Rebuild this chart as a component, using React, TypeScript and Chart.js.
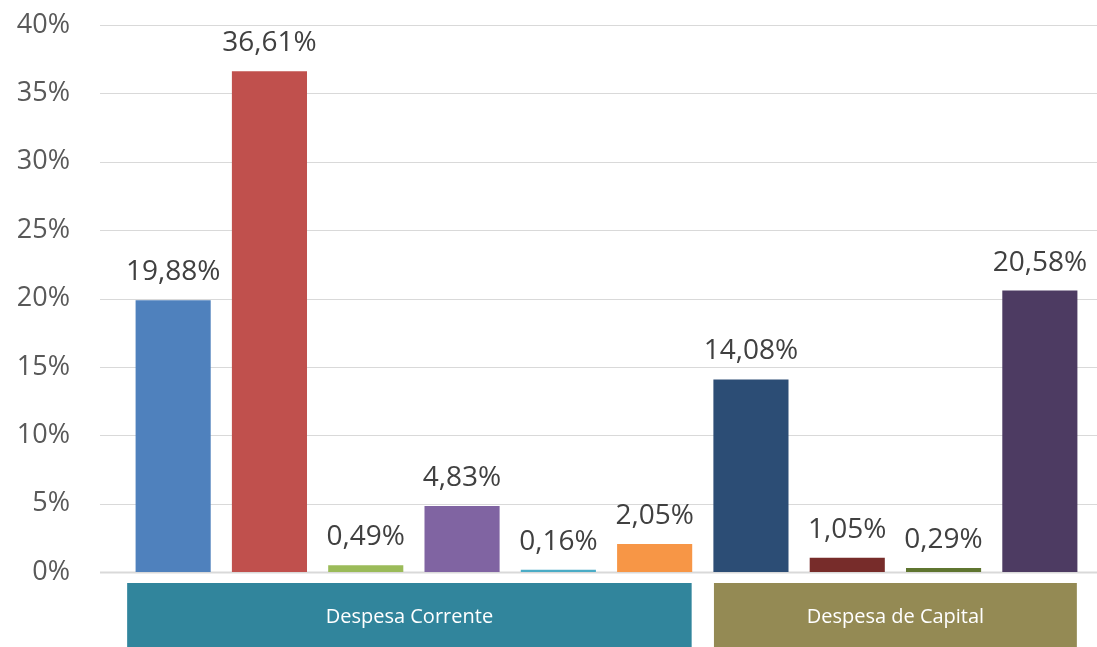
import React, { useEffect, useRef } from "react";
import { Chart, registerables } from "chart.js";

Chart.register(...registerables);

const categories = ["C1", "C2", "C3", "C4", "C5", "C6", "K1", "K2", "K3", "K4"];
const values = [19.88, 36.61, 0.49, 4.83, 0.16, 2.05, 14.08, 1.05, 0.29, 20.58];
const barColors = [
  "#4F81BD", "#C0504D", "#9BBB59", "#8064A2", "#4BACC6",
  "#F79646", "#2C4D75", "#772C2A", "#5F7530", "#4D3B62",
];
const groupLabels = ["Despesa Corrente", "Despesa de Capital"];
const groupStart = [0, 6];
const groupEnd = [5, 9];
const groupColors = ["#31859C", "#948A54"];
const yMax = 40;
const yStep = 5;

const FONT = "'Open Sans', 'Noto Sans', sans-serif";

const fmt = (v: number) => v.toFixed(2).replace(".", ",") + "%";

const gridPlugin = {
  id: "gridPlugin",
  beforeDatasetsDraw(chart: any) {
    const { ctx } = chart;
    const y = chart.scales.y;
    ctx.save();
    y.ticks.forEach((t: any) => {
      const py = Math.round(y.getPixelForValue(t.value)) + 0.5;
      ctx.beginPath();
      ctx.strokeStyle = "#D9D9D9";
      ctx.lineWidth = t.value === 0 ? 2 : 1.2;
      ctx.moveTo(100, py);
      ctx.lineTo(chart.width, py);
      ctx.stroke();
    });
    ctx.restore();
  },
};

const labelPlugin = {
  id: "labelPlugin",
  afterDatasetsDraw(chart: any) {
    const { ctx } = chart;
    const meta = chart.getDatasetMeta(0);
    ctx.save();
    ctx.font = `28px ${FONT}`;
    ctx.fillStyle = "#404040";
    ctx.textAlign = "center";
    ctx.textBaseline = "middle";
    meta.data.forEach((bar: any, i: number) => {
      ctx.fillText(fmt(values[i]), bar.x, bar.y - 28);
    });
    // group boxes
    const x = chart.scales.x;
    const y = chart.scales.y;
    const base = y.getPixelForValue(0);
    groupLabels.forEach((lab, g) => {
      const left = x.getPixelForValue(groupStart[g]) - (g === 0 ? 46 : 37);
      const right = x.getPixelForValue(groupEnd[g]) + 37;
      const top = base + 11;
      const bottom = chart.height;
      ctx.fillStyle = groupColors[g];
      ctx.fillRect(left, top, right - left, bottom - top);
      ctx.fillStyle = "#FFFFFF";
      ctx.font = `20px ${FONT}`;
      ctx.fillText(lab, (left + right) / 2, (top + bottom) / 2 + 2);
    });
    ctx.restore();
  },
};

export default function App() {
  const ref = useRef<HTMLCanvasElement>(null);
  useEffect(() => {
    if (!ref.current) return;
    const chart = new Chart(ref.current, {
      type: "bar",
      data: {
        labels: categories,
        datasets: [
          {
            data: values,
            backgroundColor: barColors,
            borderWidth: 0,
            barPercentage: 0.78,
            categoryPercentage: 1,
          },
        ],
      },
      options: {
        animation: false,
        responsive: false,
        maintainAspectRatio: false,
        layout: { padding: { top: 25, right: 9, bottom: 75, left: 0 } },
        plugins: {
          legend: { display: false },
          tooltip: { enabled: false },
        },
        scales: {
          x: { display: false, offset: true },
          y: {
            min: 0,
            max: yMax,
            border: { display: false },
            grid: { display: false },
            ticks: {
              stepSize: yStep,
              padding: 47,
              color: "#595959",
              font: { family: FONT, size: 27 },
              callback: (v: any) => `${v}%`,
            },
            afterFit: (s: any) => {
              s.width = 125;
              s.paddingTop = 0;
              s.paddingBottom = 0;
            },
          },
        },
      },
      plugins: [gridPlugin, labelPlugin],
    });
    return () => chart.destroy();
  }, []);
  return (
    <div style={{ position: "fixed", left: 0, top: 0, width: 1097, height: 647, background: "#fff" }}>
      <canvas ref={ref} width={1097} height={647} style={{ width: 1097, height: 647 }} />
    </div>
  );
}
